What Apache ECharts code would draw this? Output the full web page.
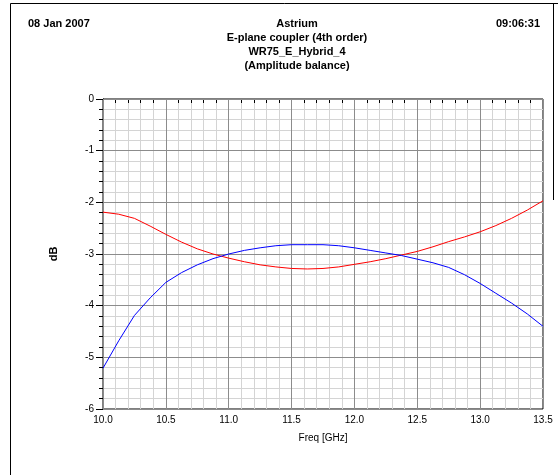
<!DOCTYPE html>
<html><head><meta charset="utf-8">
<script src="https://cdn.jsdelivr.net/npm/echarts@6/dist/echarts.min.js"></script>
<style>html,body{margin:0;padding:0;background:#fff}#c{width:558px;height:475px}</style>
</head><body><div id="c"></div>
<script>
var freq = [10.0,10.125,10.25,10.375,10.5,10.625,10.75,10.875,11.0,11.125,11.25,11.375,11.5,11.625,11.75,11.875,12.0,12.125,12.25,12.375,12.5,12.625,12.75,12.875,13.0,13.125,13.25,13.375,13.5];
var redDb = [-2.19,-2.23,-2.31,-2.46,-2.62,-2.77,-2.90,-3.00,-3.08,-3.15,-3.21,-3.25,-3.28,-3.29,-3.28,-3.25,-3.20,-3.15,-3.09,-3.02,-2.95,-2.86,-2.76,-2.67,-2.57,-2.45,-2.31,-2.15,-1.97];
var blueDb = [-5.21,-4.68,-4.19,-3.85,-3.55,-3.36,-3.21,-3.09,-3.00,-2.93,-2.88,-2.84,-2.82,-2.82,-2.82,-2.84,-2.88,-2.93,-2.98,-3.03,-3.10,-3.17,-3.26,-3.40,-3.57,-3.76,-3.95,-4.16,-4.40];
var headerLeft = '08 Jan 2007';
var headerRight = '09:06:31';
var titleLines = ['Astrium','E-plane coupler (4th order)','WR75_E_Hybrid_4','(Amplitude balance)'];

function pairs(xs, ys){ return xs.map(function(x,i){ return [x, ys[i]]; }); }
var F = 'Arial, "Liberation Sans", sans-serif';
var chart = echarts.init(document.getElementById('c'), null, {renderer:'canvas'});
var gfx = [
  {type:'line', shape:{x1:10.5,y1:3.5,x2:558,y2:3.5}, style:{stroke:'#000',lineWidth:1}},
  {type:'line', shape:{x1:10.5,y1:3.5,x2:10.5,y2:475}, style:{stroke:'#000',lineWidth:1}},
  {type:'line', shape:{x1:553.5,y1:3.5,x2:553.5,y2:200}, style:{stroke:'#000',lineWidth:1}},
  {type:'text', left:28, top:18, style:{text:headerLeft, font:'bold 11px '+F, fill:'#000'}},
  {type:'text', right:18, top:18, style:{text:headerRight, font:'bold 11px '+F, fill:'#000'}}
];
titleLines.forEach(function(t,i){
  gfx.push({type:'text', x:297, y:18+i*14, style:{text:t, font:'bold 11px '+F, fill:'#000', textAlign:'center'}});
});
var hidden = {axisLine:{show:false}, axisTick:{show:false}, axisLabel:{show:false}, minorTick:{show:false}, minorSplitLine:{show:false}};
chart.setOption({
  animation:false,
  backgroundColor:'#fff',
  graphic: gfx,
  grid:{left:103, top:99, right:15, bottom:66, show:true, borderColor:'#000', borderWidth:1, backgroundColor:'transparent'},
  xAxis:[{
    type:'value', min:10.0, max:13.5, interval:0.5, z:0,
    name:'Freq [GHz]', nameLocation:'middle', nameGap:24,
    nameTextStyle:{fontFamily:F, fontSize:10, color:'#000'},
    axisLine:{show:true, lineStyle:{color:'#000', width:1}},
    axisTick:{show:true, inside:false, length:6, lineStyle:{color:'#000'}},
    minorTick:{show:true, splitNumber:5, length:4, lineStyle:{color:'#000'}},
    axisLabel:{fontFamily:F, fontSize:10, color:'#000', margin:6, formatter:function(v){return v.toFixed(1);}},
    splitLine:{show:false},
    minorSplitLine:{show:true, lineStyle:{color:'#d4d4d4', width:1, type:'solid'}}
  }, Object.assign({
    type:'value', min:10.0, max:13.5, interval:0.5, position:'top', z:1,
    splitLine:{show:true, lineStyle:{color:'#8c8c8c', width:1, type:'solid'}}
  }, hidden)],
  yAxis:[{
    type:'value', min:-6, max:0, interval:1, z:0,
    name:'dB', nameLocation:'middle', nameGap:44, nameRotate:90,
    nameTextStyle:{fontFamily:F, fontSize:11, fontWeight:'bold', color:'#000'},
    axisLine:{show:true, lineStyle:{color:'#000', width:1}},
    axisTick:{show:true, inside:false, length:7, lineStyle:{color:'#000'}},
    minorTick:{show:true, splitNumber:5, length:4, lineStyle:{color:'#000'}},
    axisLabel:{fontFamily:F, fontSize:10, color:'#000', margin:9},
    splitLine:{show:false},
    minorSplitLine:{show:true, lineStyle:{color:'#d4d4d4', width:1, type:'solid'}}
  }, Object.assign({
    type:'value', min:-6, max:0, interval:1, position:'right', z:1,
    splitLine:{show:true, lineStyle:{color:'#8c8c8c', width:1, type:'solid'}}
  }, hidden)],
  series:[
    {type:'line', data:pairs(freq, redDb), showSymbol:false, symbol:'none', lineStyle:{color:'#ff0000', width:1}, z:3},
    {type:'line', data:pairs(freq, blueDb), showSymbol:false, symbol:'none', lineStyle:{color:'#0000ff', width:1}, z:3}
  ]
});
</script></body></html>
